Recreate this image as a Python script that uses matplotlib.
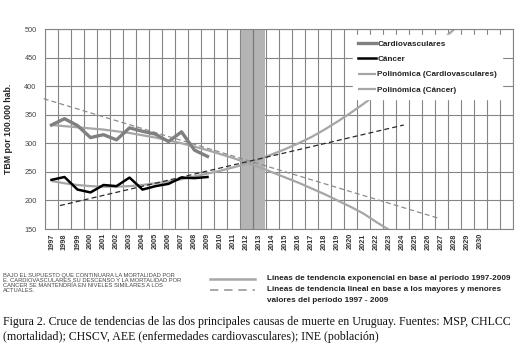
import matplotlib
matplotlib.use("Agg")
import matplotlib.pyplot as plt
import numpy as np

# ---------------- data ----------------
years_obs = [1997, 1998, 1999, 2000, 2001, 2002, 2003, 2004, 2005, 2006, 2007, 2008, 2009]
cardio = [332, 343, 331, 310, 315, 306, 327, 321, 316, 303, 320, 288, 277]
cancer = [236, 241, 219, 214, 227, 225, 240, 219, 225, 229, 240, 239, 241]

cardio_poly_years = list(range(1997, 2024))
cardio_poly = [332, 330, 328, 326, 324, 321, 318, 314, 310, 305, 300, 294, 288,
               281, 274, 266, 258, 249, 240, 231, 221, 211, 200, 189, 177, 162, 148]

cancer_poly_years = list(range(1997, 2029))
cancer_poly = [234, 230, 227, 225, 224, 224, 225, 227, 230, 233, 237, 242, 247,
               252, 258, 264, 272, 281, 290, 300, 311, 324, 338, 353, 369, 386,
               404, 422, 441, 460, 480, 500]

cardio_lin_years = [1996.4, 2026.75]
cardio_lin = [378, 169]
cancer_lin_years = [1997.65, 2024.1]
cancer_lin = [191, 332]

band_years = [2011.6, 2013.4]

all_years = list(range(1997, 2033))          # category axis (36 slots)
tick_years = list(range(1997, 2031))          # labelled categories
y_ticks = [150, 200, 250, 300, 350, 400, 450, 500]

y0 = 1997
def xi(ys):
    return [y - y0 for y in ys]

# ---------------- figure ----------------
W, H = 516, 355
fig = plt.figure(figsize=(W / 100, H / 100), dpi=100)
L, R, T, B = 45, 513, 29, 229
ax = fig.add_axes([L / W, 1 - B / H, (R - L) / W, (B - T) / H])

ax.set_xlim(-0.5, len(all_years) - 0.5)
ax.set_ylim(150, 500)

grid_c = "#858585"
for k in range(len(all_years) + 1):
    ax.axvline(k - 0.5, color=grid_c, lw=0.8, zorder=0.5)
for yv in y_ticks:
    ax.axhline(yv, color=grid_c, lw=0.8, zorder=0.5)

# highlighted band 2012-2013
ax.axvspan(band_years[0] - y0, band_years[1] - y0, color="#b4b4b4", lw=0, zorder=1)
ax.axvline(2012.5 - y0, color="#7a7a7a", lw=0.9, zorder=1.2)

# trend lines
ax.plot(xi(cardio_poly_years), cardio_poly, color="#a6a6a6", lw=1.6, zorder=2,
        solid_capstyle="butt", label="Polinómica (Cardiovasculares)")
ax.plot(xi(cancer_poly_years), cancer_poly, color="#a6a6a6", lw=1.6, zorder=2,
        solid_capstyle="butt", label="Polinómica (Cáncer)")
ax.plot(xi(cardio_lin_years), cardio_lin, color="#8c8c8c", lw=0.9, ls=(0, (4, 2.5)),
        zorder=2.5, clip_on=False)
ax.plot(xi(cancer_lin_years), cancer_lin, color="#2a2a2a", lw=0.9, ls=(0, (4, 2.5)),
        zorder=2.5)

# observed series
ax.plot(xi(years_obs), cardio, color="#808080", lw=2.4, zorder=3,
        label="Cardiovasculares")
ax.plot(xi(years_obs), cancer, color="#000000", lw=1.8, zorder=3.1, label="Cáncer")

# axes styling
ax.set_xticks(range(len(tick_years)))
ax.set_xticklabels([str(y) for y in tick_years], rotation=90, fontsize=5.3,
                   fontweight="bold", color="#333333", family="Liberation Sans")
ax.set_yticks(y_ticks)
ax.set_yticklabels([str(v) for v in y_ticks], fontsize=5.3, color="#444444",
                   family="Liberation Sans")
ax.tick_params(axis="both", length=0, pad=3)
ax.tick_params(axis="y", pad=6)
for s in ax.spines.values():
    s.set_color("#858585")
    s.set_linewidth(0.8)
ax.set_ylabel("TBM por 100.000 hab.", fontsize=6.3, fontweight="bold",
              family="Liberation Sans", color="#222222", labelpad=8)

# legend
handles, labels = ax.get_legend_handles_labels()
order = [labels.index(n) for n in ["Cardiovasculares", "Cáncer",
                                   "Polinómica (Cardiovasculares)", "Polinómica (Cáncer)"]]
leg = ax.legend([handles[i] for i in order], [labels[i] for i in order],
                loc="upper left", bbox_to_anchor=((353 - L) / (R - L), 1 - (35 - T) / (B - T)),
                frameon=True, fancybox=False, framealpha=1, facecolor="white",
                edgecolor="white", handlelength=2.2, handletextpad=0.2,
                labelspacing=0.95, borderpad=0.6, borderaxespad=0,
                prop={"family": "Liberation Sans", "weight": "bold", "size": 5.85})
leg.set_zorder(5)
for t in leg.get_texts():
    t.set_color("#222222")

# ---------------- texts below ----------------
note = ["BAJO EL SUPUESTO QUE CONTINUARA LA MORTALIDAD POR",
        "E. CARDIOVASCULARES SU DESCENSO Y LA MORTALIDAD POR",
        "CANCER SE MANTENDRÍA EN NIVELES SIMILARES A LOS",
        "ACTUALES."]
for k, line in enumerate(note):
    fig.text(3 / W, 1 - (276 + k * 4.9) / H, line, fontsize=4.15, color="#444444",
             va="center", ha="left", family="Liberation Sans")

# bottom legend
lx0, lx1 = 210, 255
fig.add_artist(plt.Line2D([lx0 / W, lx1 / W], [1 - 279 / H] * 2, color="#a6a6a6",
                          lw=1.8, transform=fig.transFigure))
fig.add_artist(plt.Line2D([lx0 / W, lx1 / W], [1 - 290 / H] * 2, color="#9a9a9a",
                          lw=1.2, ls=(0, (5, 3.5)), transform=fig.transFigure))
leg_txt = ["Líneas de tendencia exponencial en base al período 1997-2009",
           "Líneas de tendencia lineal en base a los mayores y menores",
           "valores del período 1997 - 2009"]
for k, line in enumerate(leg_txt):
    fig.text(267 / W, 1 - (279 + k * 10.5) / H, line, fontsize=5.9, fontweight="bold",
             color="#222222", va="center", ha="left", family="Liberation Sans")

caption = ["Figura 2. Cruce de tendencias de las dos principales causas de muerte en Uruguay. Fuentes: MSP, CHLCC",
           "(mortalidad); CHSCV, AEE (enfermedades cardiovasculares); INE (población)"]
for k, line in enumerate(caption):
    fig.text(3 / W, 1 - (322 + k * 15) / H, line, fontsize=8.6, color="#111111",
             va="center", ha="left", family="Liberation Serif")

fig.savefig("out.png", dpi=100)
